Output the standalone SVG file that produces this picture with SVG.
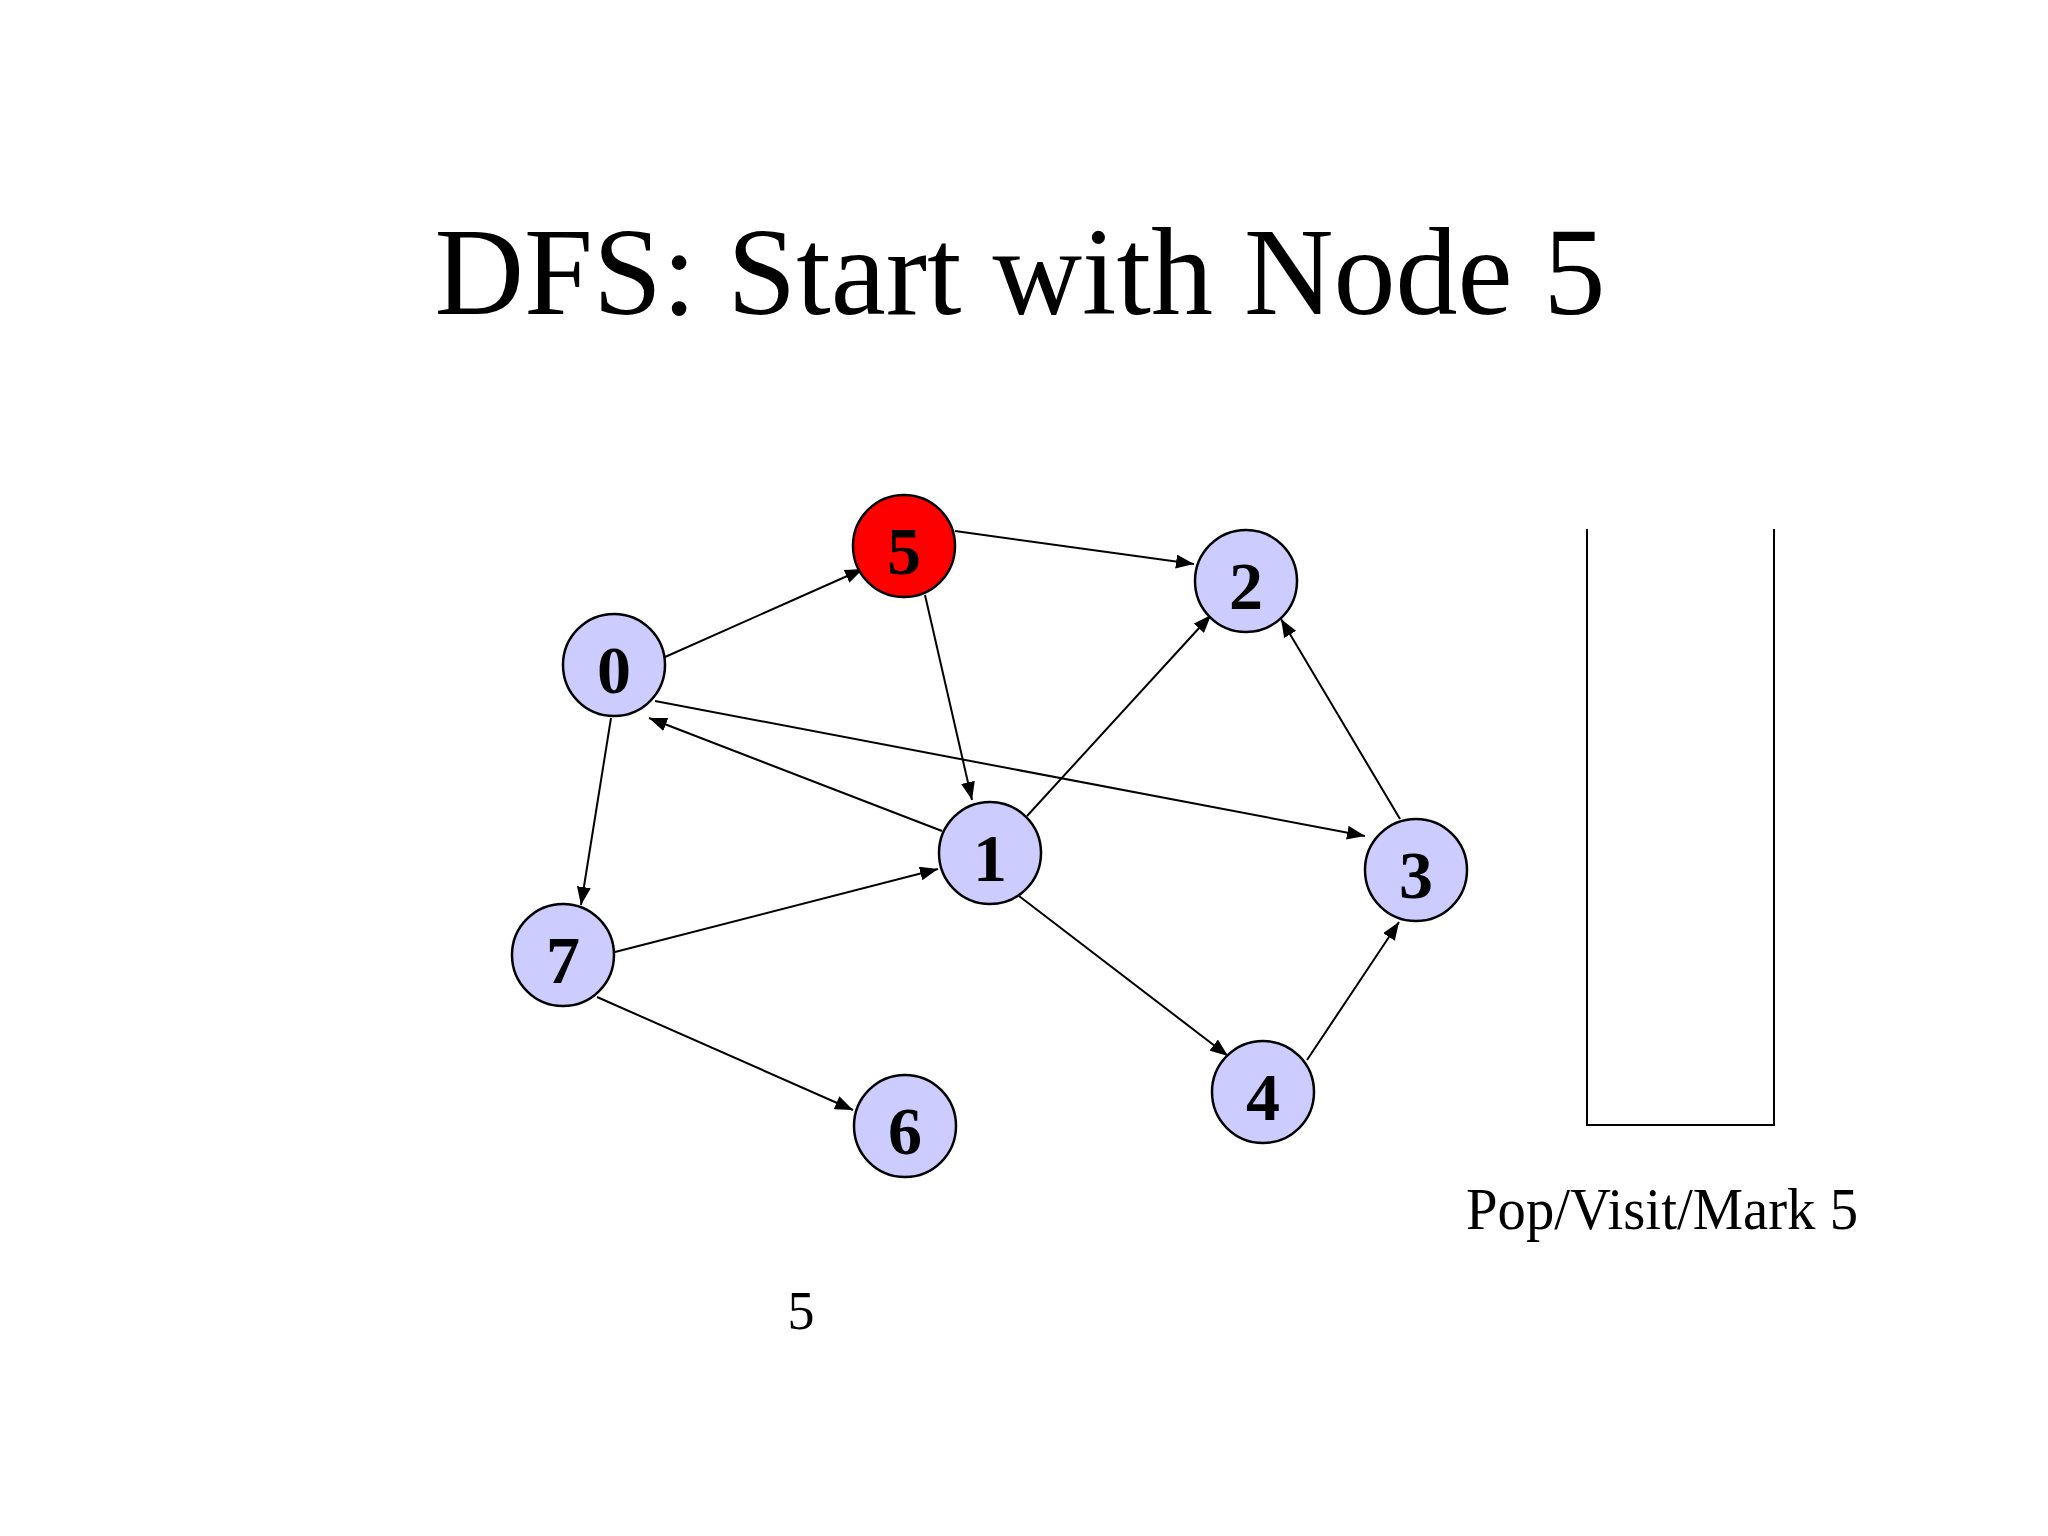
<svg xmlns="http://www.w3.org/2000/svg" width="2048" height="1536" viewBox="0 0 2048 1536">
<defs>
<marker id="arr" viewBox="0 0 18 14" refX="18" refY="7" markerWidth="18" markerHeight="14" markerUnits="userSpaceOnUse" orient="auto">
<path d="M0,0 L18,7 L0,14 z" fill="#000"/>
</marker>
</defs>
<style>
.edge{stroke:#000;stroke-width:2;fill:none;marker-end:url(#arr)}
.node circle{fill:#CCCCFF;stroke:#000;stroke-width:2.5}
.node.red circle{fill:#FF0000}
.node text{font-family:"Liberation Serif","Times New Roman",serif;font-weight:bold;font-size:68px;text-anchor:middle;fill:#000}
.txt{font-family:"Liberation Serif","Times New Roman",serif;fill:#000}
.stack{stroke:#000;stroke-width:2;fill:none}
</style>
<rect width="2048" height="1536" fill="#fff"/>
<text class="txt" x="1020" y="314" font-size="124" text-anchor="middle">DFS: Start with Node 5</text>
<g id="connectors">
<line class="edge" x1="665" y1="657" x2="863" y2="569"/>
<line class="edge" x1="955" y1="531" x2="1194" y2="564"/>
<line class="edge" x1="925" y1="595" x2="972" y2="800"/>
<line class="edge" x1="655" y1="701" x2="1365" y2="836"/>
<line class="edge" x1="942" y1="831" x2="649" y2="718"/>
<line class="edge" x1="1027" y1="816" x2="1211" y2="615"/>
<line class="edge" x1="611" y1="718" x2="581" y2="905"/>
<line class="edge" x1="615" y1="952" x2="938" y2="869"/>
<line class="edge" x1="597" y1="997" x2="853" y2="1110"/>
<line class="edge" x1="1019" y1="896" x2="1228" y2="1056"/>
<line class="edge" x1="1307" y1="1060" x2="1399" y2="922"/>
<line class="edge" x1="1400" y1="819" x2="1281" y2="619"/>
</g>
<g id="node5" class="node red"><circle cx="904" cy="546" r="51"/><text x="904" y="574">5</text></g>
<g id="node2" class="node"><circle cx="1246" cy="581" r="51"/><text x="1246" y="609">2</text></g>
<g id="node0" class="node"><circle cx="614" cy="665" r="51"/><text x="614" y="693">0</text></g>
<g id="node1" class="node"><circle cx="990" cy="853" r="51"/><text x="990" y="881">1</text></g>
<g id="node3" class="node"><circle cx="1416" cy="870" r="51"/><text x="1416" y="898">3</text></g>
<g id="node7" class="node"><circle cx="563" cy="955" r="51"/><text x="563" y="983">7</text></g>
<g id="node4" class="node"><circle cx="1263" cy="1092" r="51"/><text x="1263" y="1120">4</text></g>
<g id="node6" class="node"><circle cx="905" cy="1126" r="51"/><text x="905" y="1154">6</text></g>
<g id="stack">
<polyline class="stack" points="1587,529 1587,1125 1774,1125 1774,529"/>
</g>
<text class="txt" x="1466" y="1229" font-size="59" textLength="392" lengthAdjust="spacingAndGlyphs">Pop/Visit/Mark 5</text>
<text class="txt" x="801" y="1329" font-size="54" text-anchor="middle">5</text>
</svg>
